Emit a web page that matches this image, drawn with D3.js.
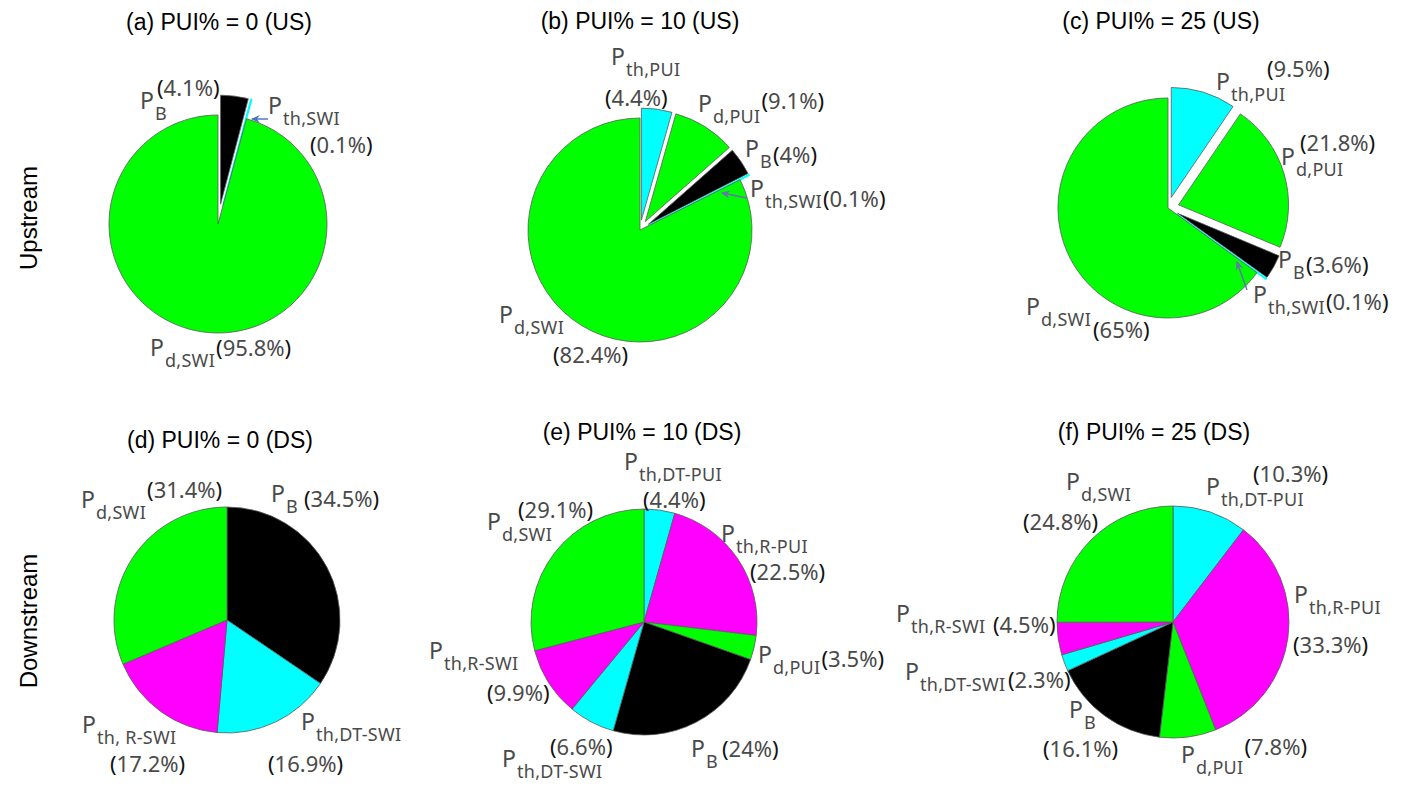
<!DOCTYPE html>
<html>
<head>
<meta charset="utf-8">
<script src="https://cdn.jsdelivr.net/npm/d3@7"></script>
<style>
  html, body { margin: 0; padding: 0; background: #fff; }
  svg { display: block; }
</style>
</head>
<body>
<svg id="chart" width="1408" height="789"></svg>
<script>
// ---------------- DATA ----------------
const titles = ["(a) PUI% = 0 (US)", "(b) PUI% = 10 (US)", "(c) PUI% = 25 (US)",
                "(d) PUI% = 0 (DS)", "(e) PUI% = 10 (DS)", "(f) PUI% = 25 (DS)"];
const rowLabels = ["Upstream", "Downstream"];

// slices listed clockwise from 12 o'clock
const namesA  = ["B", "th,SWI", "d,SWI"];
const valuesA = [4.1, 0.1, 95.8];

const namesB  = ["th,PUI", "d,PUI", "B", "th,SWI", "d,SWI"];
const valuesB = [4.4, 9.1, 4, 0.1, 82.4];

const namesC  = ["th,PUI", "d,PUI", "B", "th,SWI", "d,SWI"];
const valuesC = [9.5, 21.8, 3.6, 0.1, 65];

const namesD  = ["B", "th,DT-SWI", "th, R-SWI", "d,SWI"];
const valuesD = [34.5, 16.9, 17.2, 31.4];

const namesE  = ["th,DT-PUI", "th,R-PUI", "d,PUI", "B", "th,DT-SWI", "th,R-SWI", "d,SWI"];
const valuesE = [4.4, 22.5, 3.5, 24, 6.6, 9.9, 29.1];

const namesF  = ["th,DT-PUI", "th,R-PUI", "d,PUI", "B", "th,DT-SWI", "th,R-SWI", "d,SWI"];
const valuesF = [10.3, 33.3, 7.8, 16.1, 2.3, 4.5, 24.8];

const allNames  = [namesA, namesB, namesC, namesD, namesE, namesF];
const allValues = [valuesA, valuesB, valuesC, valuesD, valuesE, valuesF];

// ---------------- LAYOUT ----------------
const centers = [[218, 224], [640, 230], [1168, 208], [227, 620], [644, 622], [1173, 622]];
const radii   = [109, 112, 110, 113, 113, 116];
const explodeDist = [20, 10, 11, 0, 0, 0];
const explodeFlags = [[1, 1, 0], [1, 1, 1, 1, 0], [1, 1, 1, 1, 0], [0,0,0,0], [0,0,0,0,0,0,0], [0,0,0,0,0,0,0]];
const titlePos = [[219, 30], [640, 29], [1161, 29], [220, 448], [642, 440], [1154, 440]];
const rowLabelPos = [[37, 218], [37, 621]];

// label offsets relative to pie centre: [P-name x,y], [percent x,y]
const nameOff = [
  [[-78,-115], [50,-110], [-68,132]],
  [[-29,-165], [58,-118], [105,-73], [110,-33], [-141,93]],
  [[48,-118], [113,-43], [110,60], [85,95], [-142,107]],
  [[44,-118], [74,110], [-145,113], [-146,-112]],
  [[-20,-152], [77,-80], [114,41], [47,135], [-142,145], [-215,37], [-157,-92]],
  [[33,-127], [121,-19], [8,141], [-104,96], [-268,58], [-277,0], [-107,-132]]
];
const pctOff = [
  [[-61,-128], [92,-71], [-8,132]],
  [[-35,-124], [115,-121], [132,-67], [182,-23], [-87,133]],
  [[99,-131], [132,-57], [136,65], [152,102], [-75,130]],
  [[77,-113], [41,152], [-117,152], [-99,-122]],
  [[-1,-114], [106,-42], [171,45], [78,135], [-94,133], [-157,79], [-126,-104]],
  [[80,-140], [120,31], [59,133], [-130,135], [-165,66], [-180,11], [-150,-92]]
];
// small pointer arrows: [panel, x1,y1, x2,y2] relative to centre, colour
const arrows = [
  [0, 50, -105, 34, -105, "#4472c4"],
  [1, 107, -32, 82, -37, "#6b6fb5"],
  [2, 79, 82, 69, 54, "#6b6fb5"]
];

// ---------------- DRAW ----------------
const svg = d3.select("#chart");
const defs = svg.append("defs");
arrows.forEach((a, i) => {
  defs.append("marker").attr("id", "arr" + i)
    .attr("viewBox", "0 0 10 10").attr("refX", 8).attr("refY", 5)
    .attr("markerWidth", 7).attr("markerHeight", 7).attr("orient", "auto")
    .append("path").attr("d", "M0,1 L9,5 L0,9 L3,5 Z").attr("fill", a[5]);
});

function colorOf(name) {
  if (name === "B") return "#000000";
  if (name.startsWith("d")) return "#00ff00";
  if (name.includes("R-")) return "#ff00ff";
  return "#00ffff";
}

const labelFont = "'Noto Sans', 'DejaVu Sans', sans-serif";

allValues.forEach((vals, p) => {
  const names = allNames[p];
  const [cx, cy] = centers[p];
  const r = radii[p];
  const pie = d3.pie().sort(null).value(d => d).startAngle(0).endAngle(2 * Math.PI);
  const arcs = pie(vals);
  const arc = d3.arc().innerRadius(0).outerRadius(r);
  const g = svg.append("g").attr("transform", `translate(${cx},${cy})`);

  arcs.forEach((a, i) => {
    const mid = (a.startAngle + a.endAngle) / 2;
    const d = explodeFlags[p][i] ? explodeDist[p] : 0;
    const tiny = (a.endAngle - a.startAngle) < 0.02;
    g.append("path")
      .attr("d", arc(a))
      .attr("transform", `translate(${d * Math.sin(mid)},${-d * Math.cos(mid)})`)
      .attr("fill", colorOf(names[i]))
      .attr("stroke", tiny ? colorOf(names[i]) : "#5a5a5a")
      .attr("stroke-width", tiny ? 1.6 : 0.8)
      .attr("stroke-linejoin", "round");
  });

  // labels
  names.forEach((n, i) => {
    const no = nameOff[p][i];
    const t = svg.append("text")
      .attr("x", cx + no[0]).attr("y", cy + no[1])
      .attr("font-family", labelFont).attr("fill", "#4a4a4a");
    t.append("tspan").attr("font-size", 23).text("P");
    t.append("tspan").attr("font-size", 18).attr("letter-spacing", 0.3)
      .attr("dx", 1).attr("dy", 11).text(n);

    const po = pctOff[p][i];
    const q = svg.append("text")
      .attr("x", cx + po[0]).attr("y", cy + po[1])
      .attr("font-family", labelFont).attr("font-size", 22);
    q.append("tspan").attr("fill", "#111").text("(");
    q.append("tspan").attr("fill", "#4a4a4a").text(vals[i] + "%");
    q.append("tspan").attr("fill", "#111").text(")");

    // percentage on the same line as its name: keep it just after the name
    if (Math.abs(po[1] - no[1]) < 12) {
      const nb = t.node().getBBox();
      const endX = nb.x + nb.width + 1;
      if (cx + po[0] < endX) q.attr("x", endX);
    }
  });

  // title
  svg.append("text")
    .attr("x", titlePos[p][0]).attr("y", titlePos[p][1])
    .attr("text-anchor", "middle")
    .attr("font-family", "'Liberation Sans', Arial, sans-serif")
    .attr("font-size", 23).attr("fill", "#000")
    .text(titles[p]);
});

arrows.forEach((a, i) => {
  const [cx, cy] = centers[a[0]];
  svg.append("line")
    .attr("x1", cx + a[1]).attr("y1", cy + a[2])
    .attr("x2", cx + a[3]).attr("y2", cy + a[4])
    .attr("stroke", a[5]).attr("stroke-width", 1.4)
    .attr("marker-end", `url(#arr${i})`);
});

rowLabels.forEach((t, i) => {
  svg.append("text")
    .attr("transform", `translate(${rowLabelPos[i][0]},${rowLabelPos[i][1]}) rotate(-90)`)
    .attr("text-anchor", "middle")
    .attr("font-family", "'Liberation Sans', Arial, sans-serif")
    .attr("font-size", 24).attr("fill", "#000")
    .text(t);
});
</script>
</body>
</html>
